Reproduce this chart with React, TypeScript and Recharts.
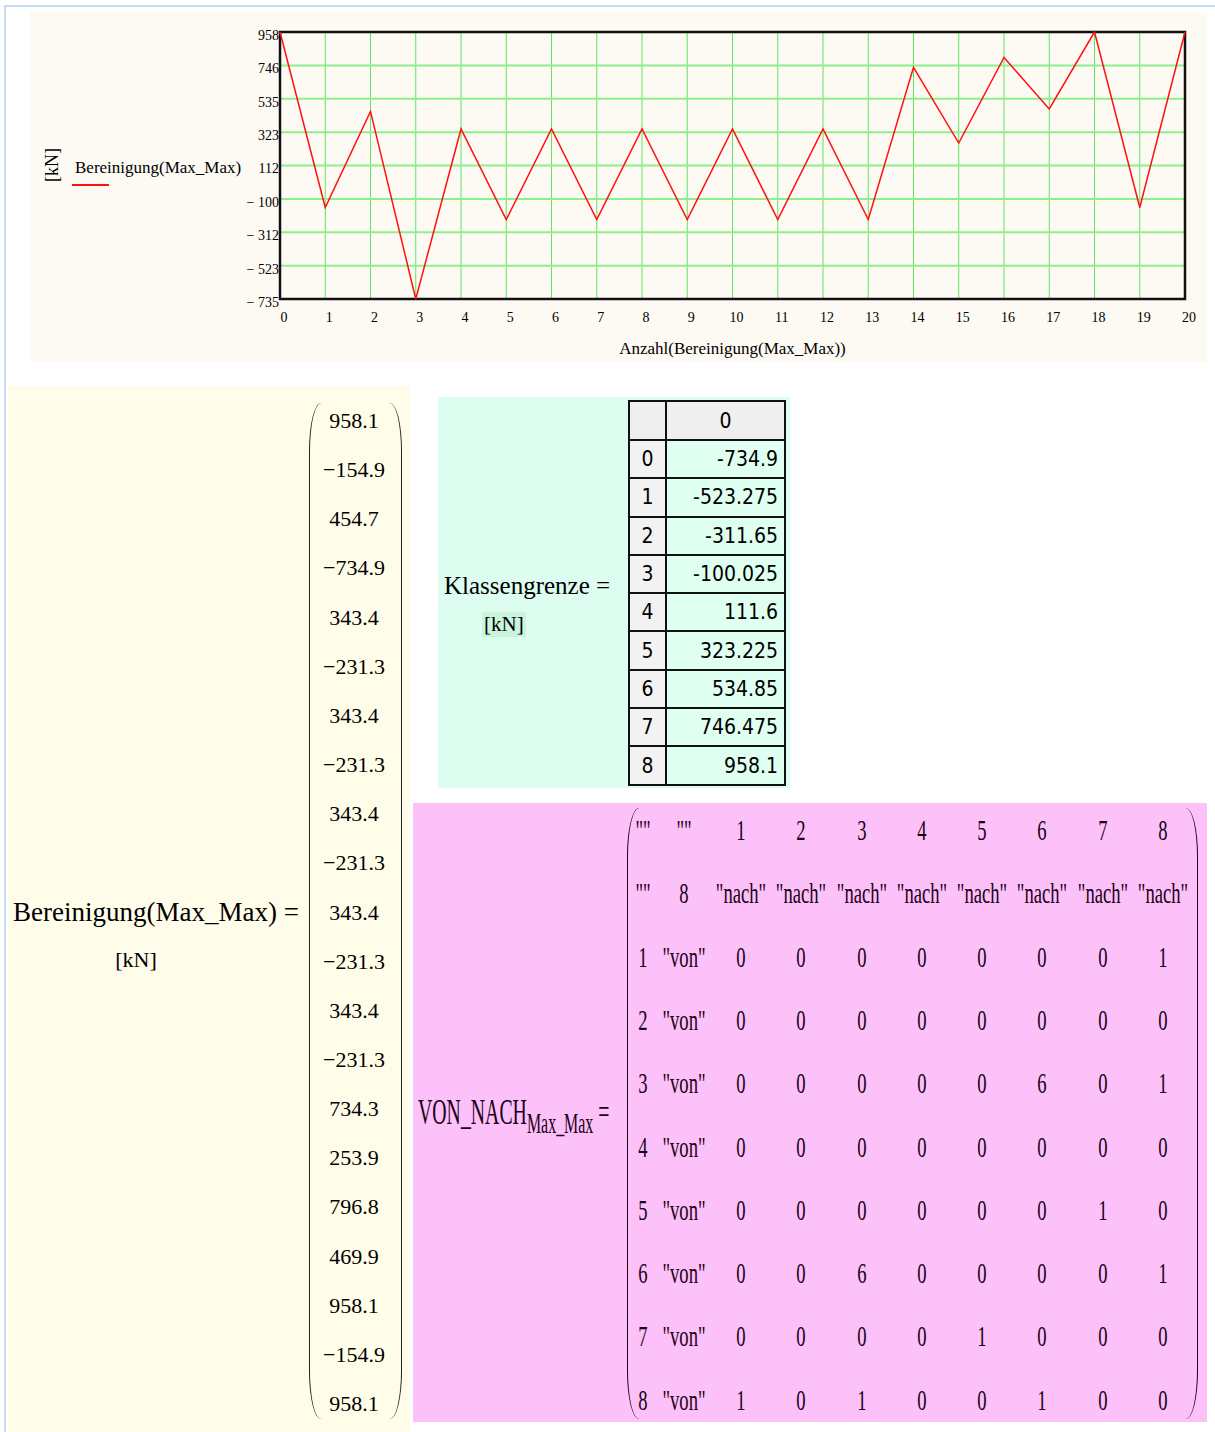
import React from "react";
import { LineChart, Line, XAxis, YAxis, CartesianGrid, ReferenceArea } from "recharts";

// Bereinigung(Max_Max) in kN, index 0..20
const bereinigung = [
  958.1, -154.9, 454.7, -734.9, 343.4, -231.3, 343.4, -231.3, 343.4, -231.3, 343.4,
  -231.3, 343.4, -231.3, 734.3, 253.9, 796.8, 469.9, 958.1, -154.9, 958.1,
];

// class limits (also the y ticks of the plot)
const klassengrenze = [-734.9, -523.275, -311.65, -100.025, 111.6, 323.225, 534.85, 746.475, 958.1];

const xTicks = [0, 1, 2, 3, 4, 5, 6, 7, 8, 9, 10, 11, 12, 13, 14, 15, 16, 17, 18, 19, 20];

// VON_NACH matrix (von rows 1..8, nach columns 1..8)
const klassenNr = [1, 2, 3, 4, 5, 6, 7, 8];
const vonNach = [
  [0, 0, 0, 0, 0, 0, 0, 1],
  [0, 0, 0, 0, 0, 0, 0, 0],
  [0, 0, 0, 0, 0, 6, 0, 1],
  [0, 0, 0, 0, 0, 0, 0, 0],
  [0, 0, 0, 0, 0, 0, 1, 0],
  [0, 0, 6, 0, 0, 0, 0, 1],
  [0, 0, 0, 0, 1, 0, 0, 0],
  [1, 0, 1, 0, 0, 1, 0, 0],
];

const serif = "'Liberation Serif', 'Times New Roman', serif";
const tableFont = "'DejaVu Sans Condensed', 'DejaVu Sans', sans-serif";

const chartData = bereinigung.map((v, i) => ({ idx: i, value: v }));

const fmtY = (v: number) => {
  const r = Math.round(v);
  return r < 0 ? `\u2212 ${Math.abs(r)}` : String(r);
};

function Txt({ x, y, size, children, sx = 1, color = "#000", anchor = "center" }: any) {
  const tx = anchor === "center" ? "-50%" : anchor === "right" ? "-100%" : "0";
  return (
    <div
      style={{
        position: "absolute",
        left: x,
        top: y,
        fontFamily: serif,
        fontSize: size,
        color,
        whiteSpace: "nowrap",
        lineHeight: 1,
        transform: `translate(${tx}, -50%) scaleX(${sx})`,
        transformOrigin: anchor === "left" ? "left center" : anchor === "right" ? "right center" : "center",
      }}
    >
      {children}
    </div>
  );
}

function Paren({ left, top, height, side, color = "#222" }: any) {
  const r = "12px 48px";
  const s: React.CSSProperties = {
    position: "absolute",
    left,
    top,
    width: 12,
    height,
    boxSizing: "border-box",
  };
  if (side === "left") {
    s.borderLeft = `1.6px solid ${color}`;
    s.borderTopLeftRadius = r;
    s.borderBottomLeftRadius = r;
  } else {
    s.borderRight = `1.6px solid ${color}`;
    s.borderTopRightRadius = r;
    s.borderBottomRightRadius = r;
  }
  return <div style={s} />;
}

export default function App() {
  const vnCols = [643, 684, 741, 801, 862, 922, 982, 1042, 1103, 1163];
  const vnRowY = (i: number) => 830 + i * 63.3;
  const vnColor = "#1c0018";
  const vnSx = 0.62;

  const vnRows: string[][] = [
    ['""', '""', ...klassenNr.map(String)],
    ['""', String(klassenNr.length), ...klassenNr.map(() => '"nach"')],
    ...vonNach.map((row, i) => [String(klassenNr[i]), '"von"', ...row.map(String)]),
  ];

  return (
    <div style={{ position: "absolute", left: 0, top: 0, width: 1215, height: 1432, background: "#fff", overflow: "hidden" }}>
      {/* frame lines */}
      <div style={{ position: "absolute", left: 5, top: 5, width: 1210, height: 2, background: "#c6dcf3" }} />
      <div style={{ position: "absolute", left: 4, top: 5, width: 2, height: 1427, background: "#c6dcf3" }} />

      {/* plot region */}
      <div style={{ position: "absolute", left: 30, top: 12, width: 1177, height: 350, background: "#fdfaf4" }}>
        <LineChart width={1177} height={350} data={chartData} margin={{ top: 20, right: 22, left: 210, bottom: 3 }}>
          <CartesianGrid horizontal={false} stroke="#5ee65e" strokeWidth={1} />
          <CartesianGrid vertical={false} stroke="#8cf08c" strokeWidth={2} />
          <XAxis
            dataKey="idx"
            type="number"
            domain={[0, 20]}
            ticks={xTicks}
            interval={0}
            height={60}
            axisLine={false}
            tickLine={false}
            tickMargin={7}
            tick={{ fontFamily: serif, fontSize: 14, fill: "#000", dx: 4 }}
            label={{
              value: "Anzahl(Bereinigung(Max_Max))",
              position: "insideBottom",
              offset: 5,
              style: { fontFamily: serif, fontSize: 17, fill: "#000" },
            }}
          />
          <YAxis
            type="number"
            domain={[klassengrenze[0], klassengrenze[klassengrenze.length - 1]]}
            ticks={klassengrenze}
            interval={0}
            width={40}
            axisLine={false}
            tickLine={false}
            tickMargin={1}
            tickFormatter={fmtY}
            tick={{ fontFamily: serif, fontSize: 14, fill: "#000", dy: 3, dx: 6 }}
          />
          <ReferenceArea
            x1={0}
            x2={20}
            y1={klassengrenze[0]}
            y2={klassengrenze[klassengrenze.length - 1]}
            fill="none"
            stroke="#111"
            strokeWidth={2.5}
            ifOverflow="visible"
          />
          <Line
            dataKey="value"
            stroke="#ff1010"
            strokeWidth={1.5}
            dot={false}
            isAnimationActive={false}
          />
        </LineChart>
        {/* legend */}
        <div
          style={{
            position: "absolute",
            left: 22,
            top: 153,
            fontFamily: serif,
            fontSize: 18,
            lineHeight: 1,
            whiteSpace: "nowrap",
            transform: "translate(-50%, -50%) rotate(-90deg)",
          }}
        >
          [kN]
        </div>
        <div style={{ position: "absolute", left: 45, top: 146, fontFamily: serif, fontSize: 17, whiteSpace: "nowrap" }}>
          Bereinigung(Max_Max)
        </div>
        <div style={{ position: "absolute", left: 42, top: 172, width: 37, height: 2, background: "#ff1010" }} />
      </div>

      {/* Bereinigung vector */}
      <div style={{ position: "absolute", left: 8, top: 386, width: 402, height: 1046, background: "#fffde9" }} />
      <Txt x={13} y={912} size={27} anchor="left">
        Bereinigung(Max_Max) =
      </Txt>
      <Txt x={136} y={960} size={22}>
        [kN]
      </Txt>
      <Paren left={309} top={403} height={1016} side="left" />
      <Paren left={390} top={403} height={1016} side="right" />
      {bereinigung.map((v, i) => (
        <Txt key={i} x={354} y={421 + i * 49.15} size={22}>
          {v < 0 ? `\u2212${Math.abs(v)}` : String(v)}
        </Txt>
      ))}

      {/* Klassengrenze table */}
      <div style={{ position: "absolute", left: 438, top: 397, width: 352, height: 391, background: "#dcfdef" }} />
      <Txt x={444} y={585} size={25} anchor="left">
        Klassengrenze =
      </Txt>
      <div
        style={{
          position: "absolute",
          left: 482,
          top: 612,
          fontFamily: serif,
          fontSize: 21,
          background: "#c9f5dc",
          padding: "1px 2px",
          lineHeight: 1.1,
        }}
      >
        [kN]
      </div>
      <table
        style={{
          position: "absolute",
          left: 628,
          top: 400,
          borderCollapse: "collapse",
          fontFamily: tableFont,
          fontSize: 21,
        }}
      >
        <tbody>
          <tr style={{ height: 39 }}>
            <td style={{ width: 33, border: "2px solid #111", background: "#efefef" }} />
            <td style={{ width: 115, border: "2px solid #111", background: "#efefef", textAlign: "center" }}>0</td>
          </tr>
          {klassengrenze.map((v, i) => (
            <tr key={i} style={{ height: 38.3 }}>
              <td style={{ border: "2px solid #111", background: "#f2f2f2", textAlign: "center", padding: 0 }}>{i}</td>
              <td style={{ border: "2px solid #111", background: "#dffff0", textAlign: "right", padding: "0 6px 0 0" }}>
                {String(v)}
              </td>
            </tr>
          ))}
        </tbody>
      </table>

      {/* VON_NACH matrix */}
      <div style={{ position: "absolute", left: 413, top: 803, width: 794, height: 619, background: "#fdc1f9" }} />
      <div
        style={{
          position: "absolute",
          left: 418,
          top: 1091,
          fontFamily: serif,
          fontSize: 36,
          color: vnColor,
          whiteSpace: "nowrap",
          transform: "scaleX(0.55)",
          transformOrigin: "left top",
          lineHeight: 1.2,
        }}
      >
        VON_NACH<sub style={{ fontSize: 29, verticalAlign: "-0.3em" }}>Max_Max</sub> =
      </div>
      <Paren left={627} top={808} height={611} side="left" color={vnColor} />
      <Paren left={1186} top={808} height={611} side="right" color={vnColor} />
      {vnRows.map((row, ri) =>
        row.map((cell, ci) => (
          <Txt key={`${ri}-${ci}`} x={vnCols[ci]} y={vnRowY(ri)} size={30} sx={vnSx} color={vnColor}>
            {cell}
          </Txt>
        ))
      )}
    </div>
  );
}
